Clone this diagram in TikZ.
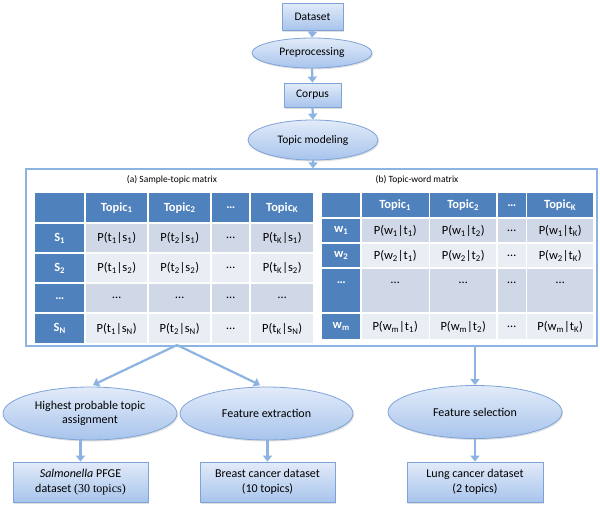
\documentclass[tikz,border=0pt]{standalone}
\usepackage{fontspec}
\setmainfont{Carlito}
\newfontfamily\tmsfont{Liberation Serif}
\usetikzlibrary{shapes.geometric,arrows.meta,shadows,matrix}
\definecolor{hdr}{HTML}{4F81BD}
\definecolor{rowdk}{HTML}{D0D8E8}
\definecolor{rowlt}{HTML}{E9EDF4}
\definecolor{edgeblue}{HTML}{7EA3D8}
\definecolor{arrblue}{HTML}{8DB3E2}
\definecolor{gtop}{HTML}{E2EBF9}
\definecolor{gbot}{HTML}{A8C4EC}
\newcommand\sbs[1]{\textsubscript{#1}}
\tikzset{
  flowbox/.style={draw=edgeblue, line width=0.8pt, top color=gtop, bottom color=gbot,
    inner sep=0pt, align=center,
    drop shadow={opacity=0.25,shadow xshift=1pt,shadow yshift=-1.5pt},
    font=\fontsize{11.5}{13.5}\selectfont},
  flowell/.style={flowbox, ellipse},
  conn/.style={draw=arrblue, line width=2.2pt, -{Triangle[width=9pt,length=6pt]}},
  cell/.style={inner sep=0pt, anchor=center, font=\fontsize{12.5}{14}\selectfont},
  hcell/.style={fill=hdr, text=white, font=\fontsize{12.5}{14}\selectfont\bfseries},
  dcell/.style={fill=rowdk},
  lcell/.style={fill=rowlt},
  title/.style={inner sep=0pt, font=\fontsize{9.5}{11}\selectfont},
}
\begin{document}
\begin{tikzpicture}[x=1pt,y=-1pt]
\useasboundingbox (0,0) rectangle (600,507);
% top flow
\node[flowbox, minimum width=61pt, minimum height=27pt] (ds) at (312.5,16.5) {Dataset};
\node[flowell, minimum width=120pt, minimum height=30pt] (pre) at (312,53) {Preprocessing};
\node[flowbox, minimum width=57pt, minimum height=24pt] (corp) at (312.5,95) {Corpus};
\node[flowell, minimum width=130pt, minimum height=40pt] (tm) at (313,140) {Topic modeling};
\draw[conn] (ds.south) -- (pre.north);
\draw[conn] (pre.south) -- (corp.north);
\draw[conn] (corp.south) -- (tm.north);
% frame
\node[draw=arrblue, line width=1.3pt, fill=white, minimum width=571pt, minimum height=177pt, inner sep=0pt] (frame) at (311.5,257.5) {};
\draw[conn] (tm.south) -- (tm.south |- frame.north);
\node[title] (ta) at (172,180) {(a) Sample-topic matrix};
\node[title] (tb) at (417,180) {(b) Topic-word matrix};
% left matrix
\matrix (ma) [matrix of nodes, nodes in empty cells, row sep=2pt, column sep=2pt,
  nodes={cell}, anchor=north west, inner sep=0pt,
  column 1/.style={nodes={minimum width=49pt}},
  column 2/.style={nodes={minimum width=61pt}},
  column 3/.style={nodes={minimum width=61pt}},
  column 4/.style={nodes={minimum width=37pt}},
  column 5/.style={nodes={minimum width=62pt}},
  row 1/.style={nodes={hcell, minimum height=29pt}},
  row 2/.style={nodes={dcell, minimum height=28pt}},
  row 3/.style={nodes={lcell, minimum height=28pt}},
  row 4/.style={nodes={dcell, minimum height=28pt}},
  row 5/.style={nodes={lcell, minimum height=29pt}}]
  at (35,193) {
  |[hcell]| & Topic\sbs{1} & Topic\sbs{2} & \ldots & Topic\sbs{K} \\
  |[hcell]| S\sbs{1} & P(t\sbs{1}\textbar s\sbs{1}) & P(t\sbs{2}\textbar s\sbs{1}) & \ldots & P(t\sbs{K}\textbar s\sbs{1}) \\
  |[hcell]| S\sbs{2} & P(t\sbs{1}\textbar s\sbs{2}) & P(t\sbs{2}\textbar s\sbs{2}) & \ldots & P(t\sbs{K}\textbar s\sbs{2}) \\
  |[hcell]| \ldots & \ldots & \ldots & \ldots & \ldots \\
  |[hcell]| S\sbs{N} & P(t\sbs{1}\textbar s\sbs{N}) & P(t\sbs{2}\textbar s\sbs{N}) & \ldots & P(t\sbs{K}\textbar s\sbs{N}) \\
};
% right matrix
\matrix (mb) [matrix of nodes, nodes in empty cells, row sep=2pt, column sep=1.5pt,
  nodes={cell}, anchor=north west, inner sep=0pt,
  column 1/.style={nodes={minimum width=38pt}},
  column 2/.style={nodes={minimum width=67pt}},
  column 3/.style={nodes={minimum width=66pt}},
  column 4/.style={nodes={minimum width=28pt}},
  column 5/.style={nodes={minimum width=66pt}},
  row 1/.style={nodes={hcell, minimum height=24pt}},
  row 2/.style={nodes={dcell, minimum height=23pt}},
  row 3/.style={nodes={lcell, minimum height=23pt}},
  row 4/.style={nodes={dcell, minimum height=43pt, text height=7pt, text depth=22pt}},
  row 5/.style={nodes={lcell, minimum height=25pt}}]
  at (322,193) {
  |[hcell]| & Topic\sbs{1} & Topic\sbs{2} & \ldots & Topic\sbs{K} \\
  |[hcell]| w\sbs{1} & P(w\sbs{1}\textbar t\sbs{1}) & P(w\sbs{1}\textbar t\sbs{2}) & \ldots & P(w\sbs{1}\textbar t\sbs{K}) \\
  |[hcell]| w\sbs{2} & P(w\sbs{2}\textbar t\sbs{1}) & P(w\sbs{2}\textbar t\sbs{2}) & \ldots & P(w\sbs{2}\textbar t\sbs{K}) \\
  |[hcell]| \ldots & \ldots & \ldots & \ldots & \ldots \\
  |[hcell]| w\sbs{m} & P(w\sbs{m}\textbar t\sbs{1}) & P(w\sbs{m}\textbar t\sbs{2}) & \ldots & P(w\sbs{m}\textbar t\sbs{K}) \\
};
% bottom
\node[flowell, minimum width=174pt, minimum height=53pt, font=\fontsize{12}{14.5}\selectfont] (hp) at (90,413.5) {Highest probable topic\\assignment};
\node[flowell, minimum width=173pt, minimum height=53pt, font=\fontsize{12}{14.5}\selectfont] (fe) at (266.5,413.5) {Feature extraction};
\node[flowell, minimum width=174pt, minimum height=53pt, font=\fontsize{12}{14.5}\selectfont] (fs) at (475,412) {Feature selection};
\node[flowbox, minimum width=135pt, minimum height=40pt, font=\fontsize{12}{15}\selectfont] (sal) at (80.5,482) {\textit{Salmonella} PFGE\\dataset {\tmsfont (30 topics)}};
\node[flowbox, minimum width=135pt, minimum height=40pt, font=\fontsize{12}{15}\selectfont] (br) at (267.5,482) {Breast cancer dataset\\(10 topics)};
\node[flowbox, minimum width=136pt, minimum height=40pt, font=\fontsize{12}{15}\selectfont] (lu) at (475,482) {Lung cancer dataset\\(2 topics)};
\coordinate (split) at (177,345);
\draw[conn] (split) -- (93,385);
\draw[conn] (split) -- (260,385);
\draw[conn] (fs.north |- frame.south) -- (fs.north);
\draw[conn] (sal.north |- hp.south) -- (sal.north);
\draw[conn] (br.north |- fe.south) -- (br.north);
\draw[conn] (lu.north |- fs.south) -- (lu.north);
\end{tikzpicture}
\end{document}
